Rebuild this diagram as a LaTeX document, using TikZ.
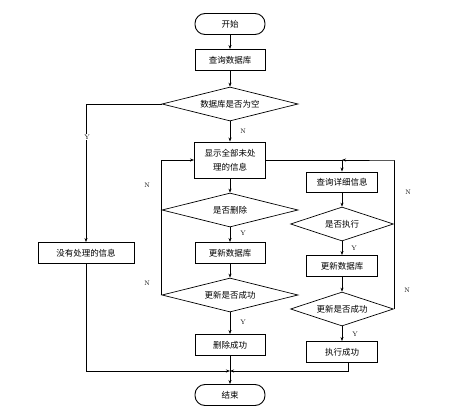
\documentclass[tikz,border=0pt]{standalone}
\usepackage{fontspec}
\newfontfamily\cjk{Noto Sans CJK SC}
\usetikzlibrary{arrows.meta,shapes.geometric}

\begin{document}
\begin{tikzpicture}[x=1pt, y=-1pt,
        line width=0.6pt, >={Stealth[length=4pt,width=3pt]},
        box/.style={draw, line width=0.9pt, minimum width=70pt, minimum height=21pt, inner sep=1pt, font=\cjk\fontsize{8.5}{14}\selectfont, align=center},
        term/.style={box, rounded corners=10pt},
        test/.style={draw, diamond, aspect=4, line width=0.7pt, inner sep=0pt, minimum width=136pt, minimum height=34pt, font=\cjk\fontsize{8.5}{10}\selectfont},
        yn/.style={font=\fontsize{6.5}{7}\selectfont, inner sep=1pt}]
        \useasboundingbox (0,0) rectangle (459,410);
        % main column
        \node[term](start)at(230,24){开始};
        \node[box](query)at(230,60){查询数据库};
        \node[test](empty)at(230,104){数据库是否为空};
        \node[box, minimum width=71pt, minimum height=36pt](show)at(230,160){显示全部未处\\理的信息};
        \node[test](isdel)at(230,210){是否删除};
        \node[box](updA)at(230,253){更新数据库};
        \node[test](okA)at(230,295){更新是否成功};
        \node[box](delok)at(230,345){删除成功};
        \node[term](stop)at(230,395){结束};
        % left branch
        \node[box, minimum width=96pt](none)at(86,253){没有处理的信息};
        % right column
        \node[box, minimum width=71pt, minimum height=20pt](detail)at(342,182){查询详细信息};
        \node[test, minimum width=103pt](isrun)at(342,224){是否执行};
        \node[box, minimum width=71pt](updB)at(342,266){更新数据库};
        \node[test, minimum width=103pt](okB)at(342,309){更新是否成功};
        \node[box, minimum width=71pt](runok)at(342,352){执行成功};

        \coordinate(join)at(230,371);
        \coordinate(loopR)at(394,160);

        \path[draw,->](start)--(query);
        \path[draw,->](query)--(empty);
        \path[draw,->](empty.west)-|(none.north);
        \path[draw,->](empty)--(show);
        \path[draw,->](show)--(isdel);
        \path[draw,->](isdel)--(updA);
        \path[draw,->](updA)--(okA);
        \path[draw,->](okA)--(delok);
        \path[draw,->](delok)--(stop);
        \path[draw,->](okA.west)--(isdel.west)|-(show.west);
        \path[draw,->](none.south)|-(join);
        \path[draw,->](show.east)-|(detail.north);
        \path[draw,->](detail)--(isrun);
        \path[draw,->](isrun)--(updB);
        \path[draw,->](updB)--(okB);
        \path[draw,->](okB)--(runok);
        \path[draw,->](okB.east)--(isrun.east)|-(loopR)--(detail.north|-loopR);
        \path[draw,->]([xshift=6pt]runok.south)|-(join);

        % labels
        \node[yn, fill=white](lY1)at(87,137){Y};
        \node[yn](lN1)at(243,131){N};
        \node[yn](lY2)at(243,233){Y};
        \node[yn](lY3)at(243,322){Y};
        \node[yn](lN2)at(147,185){N};
        \node[yn](lN3)at(147,283){N};
        \node[yn](lY4)at(354,248){Y};
        \node[yn](lY5)at(355,334){Y};
        \node[yn](lN4)at(408,192){N};
        \node[yn](lN5)at(407,290){N};
    \end{tikzpicture}
\end{document}
